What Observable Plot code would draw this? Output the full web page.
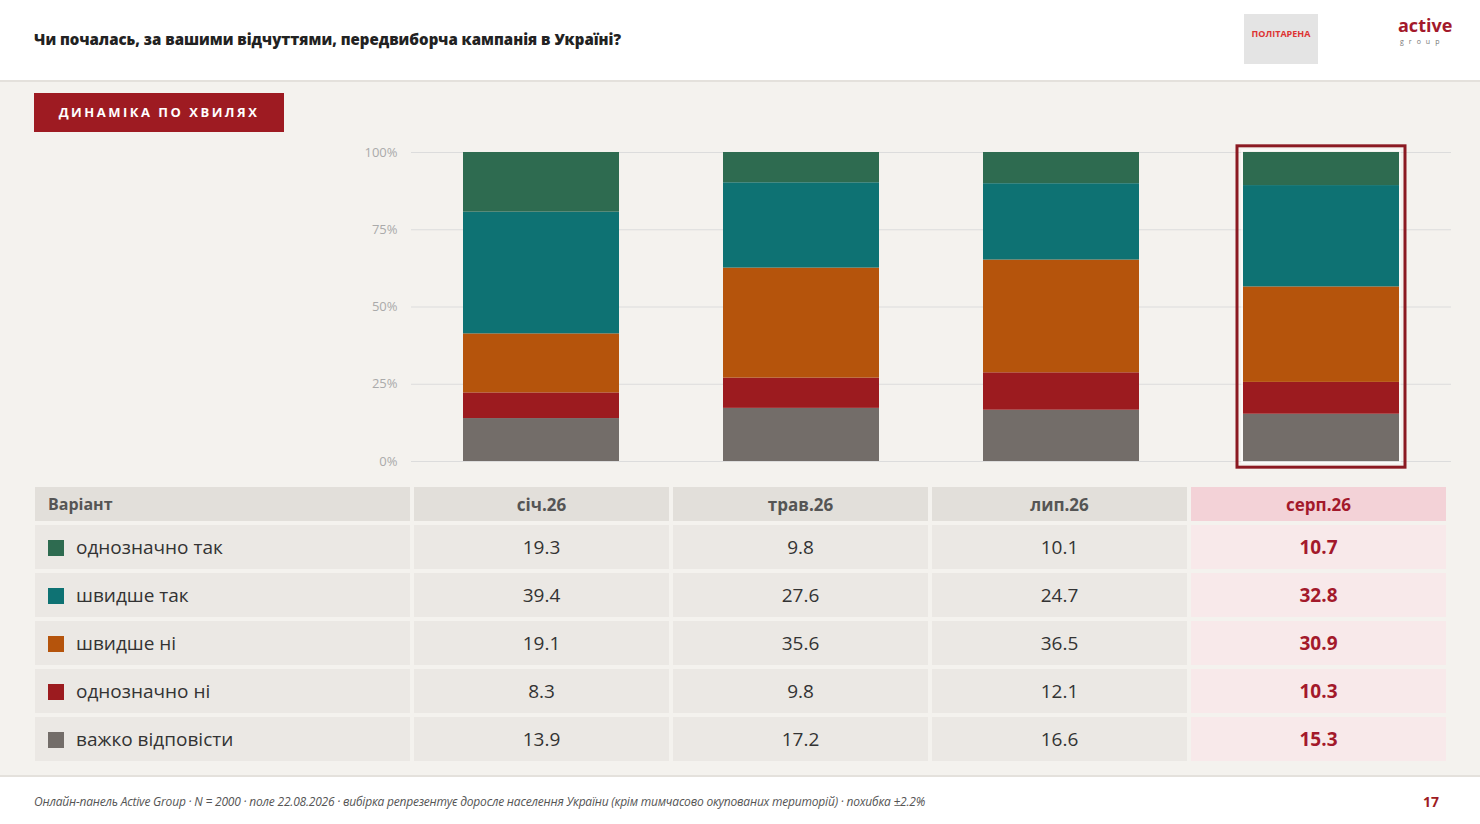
<!DOCTYPE html>
<html><head><meta charset="utf-8">
<script src="https://cdn.jsdelivr.net/npm/d3@7"></script>
<script src="https://cdn.jsdelivr.net/npm/@observablehq/plot@0.6"></script>
<style>
body{margin:0;width:1480px;height:824px;background:#f4f2ee;font-family:"Open Sans",sans-serif;position:relative;overflow:hidden}
#hdr{position:absolute;left:0;top:0;width:1480px;height:80px;background:#fff;border-bottom:2px solid #e4e1dc}
#title{position:absolute;left:34px;top:29px;font-size:15px;font-weight:800;color:#222}
#btn{position:absolute;left:34px;top:93px;width:250px;height:39px;background:#9e1b22;color:#fff;font-size:13px;font-weight:700;letter-spacing:2.5px;line-height:39px;text-align:center}
#chart{position:absolute;left:340px;top:140px}
table{position:absolute;left:31px;top:483px;border-collapse:separate;border-spacing:4px 4px;table-layout:fixed}
td{height:44px;font-size:19px;color:#333;text-align:center;background:#ebe8e4;padding:0;box-sizing:border-box}
tr.h td{height:34px;background:#e2dfda;font-weight:700;font-size:17px;color:#555}
td.f{width:375px;text-align:left;padding-left:13px}
tr.h td.f{font-size:16px}
td.c{width:255px}
td.l{background:#f8e9ea;color:#a3192b;font-weight:700}
tr.h td.l{background:#f3d2d7;color:#a3192b}
.sw{display:inline-block;width:16px;height:16px;margin-right:12px;vertical-align:-2px}
#foot{position:absolute;left:0;top:775px;width:1480px;height:49px;background:#fff;border-top:2px solid #e4e1dc}
#fn{position:absolute;left:34px;top:793px;font-size:12px;font-style:italic;color:#555;letter-spacing:-0.2px}
#pg{position:absolute;left:1423px;top:792px;font-size:14px;font-weight:700;color:#9e1b22}
#logo1{position:absolute;left:1244px;top:14px;width:74px;height:50px;background:#e4e4e4;color:#d33;font-size:9px;font-weight:700;text-align:center;line-height:40px}
#logo2{position:absolute;left:1398px;top:14px;font-size:18px;font-weight:700;color:#a3192b;line-height:22px}
#logo3{position:absolute;left:1400px;top:37px;font-size:7px;color:#777;letter-spacing:5px}
</style></head><body>
<div id="hdr"></div>
<div id="title">Чи почалась, за вашими відчуттями, передвиборча кампанія в Україні?</div>
<div id="logo1">ПОЛІТАРЕНА</div>
<div id="logo2">active</div><div id="logo3">group</div>
<div id="btn">ДИНАМІКА ПО ХВИЛЯХ</div>
<div id="chart"></div>
<table id="tbl"></table>
<div id="foot"></div>
<div id="fn">Онлайн-панель Active Group · N = 2000 · поле 22.08.2026 · вибірка репрезентує доросле населення України (крім тимчасово окупованих територій) · похибка ±2.2%</div>
<div id="pg">17</div>
<script>
const waves=["січ.26","трав.26","лип.26","серп.26"];
const options=["однозначно так","швидше так","швидше ні","однозначно ні","важко відповісти"];
const colors=["#2e6b50","#0e7273","#b5540c","#9c1b1f","#736d69"];
const vYesSure=[19.3,9.8,10.1,10.7];
const vYes=[39.4,27.6,24.7,32.8];
const vNo=[19.1,35.6,36.5,30.9];
const vNoSure=[8.3,9.8,12.1,10.3];
const vHard=[13.9,17.2,16.6,15.3];
const series=[vYesSure,vYes,vNo,vNoSure,vHard];
const stackOrder=[4,3,2,1,0];
const data=[];
waves.forEach((w,i)=>stackOrder.forEach(k=>data.push({wave:w,opt:options[k],v:series[k][i]})));
const chart=Plot.plot({
  width:1120,height:335,marginLeft:71,marginRight:9,marginTop:12,marginBottom:14,
  style:{background:"transparent",fontFamily:"Open Sans",fontSize:"13px",color:"#aaa"},
  x:{domain:waves,paddingInner:0.4,paddingOuter:0.2,axis:null},
  y:{domain:[0,100],ticks:[0,25,50,75,100],tickFormat:d=>d+"%",label:null,tickSize:0,tickPadding:14},
  color:{domain:options,range:colors},
  marks:[
    Plot.gridY([0,25,50,75,100],{stroke:"#dcdcdc",strokeOpacity:1}),
    Plot.barY(data,{x:"wave",y:"v",fill:"opt",order:options.slice().reverse()}),
    Plot.barY([waves[3]],{x:d=>d,y1:-2,y2:102,fill:"none",stroke:"#8b1a22",strokeWidth:3,insetLeft:-6,insetRight:-6}),
    Plot.barY([waves[3]],{x:d=>d,y1:-0.6,y2:100.6,fill:"none",stroke:"#fff",strokeWidth:1,insetLeft:-1,insetRight:-1})
  ]
});
document.getElementById("chart").append(chart);
let h='<tr class="h"><td class="f">Варіант</td>'+waves.map((w,i)=>`<td class="c${i==3?' l':''}">${w}</td>`).join("")+'</tr>';
options.forEach((o,k)=>{h+=`<tr><td class="f"><span class="sw" style="background:${colors[k]}"></span>${o}</td>`+series[k].map((v,i)=>`<td class="c${i==3?' l':''}">${v.toFixed(1)}</td>`).join("")+'</tr>';});
document.getElementById("tbl").innerHTML=h;
</script></body></html>
